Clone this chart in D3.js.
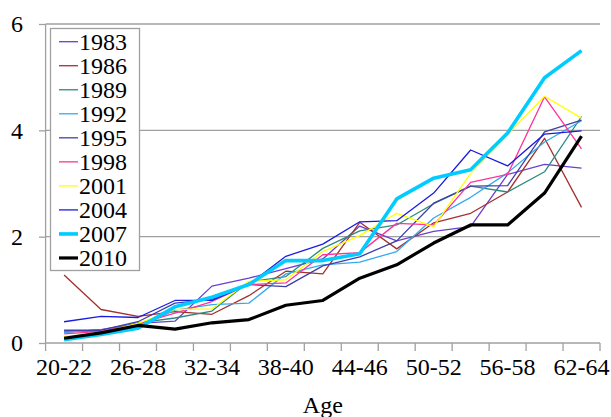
<!DOCTYPE html>
<html>
<head>
<meta charset="utf-8">
<script src="https://cdn.jsdelivr.net/npm/d3@7"></script>
<style>
  body { margin: 0; background: #fff; }
  text { font-family: "Liberation Serif", "Times New Roman", serif; }
</style>
</head>
<body>
<div id="chart"></div>
<script>
var ageGroups = ["20-22", "23-25", "26-28", "29-31", "32-34", "35-37", "38-40", "41-43",
                 "44-46", "47-49", "50-52", "53-55", "56-58", "59-61", "62-64"];
var yTicks = [0, 2, 4, 6];

var s1983 = [0.20, 0.25, 0.37, 0.41, 1.07, 1.22, 1.40, 1.58, 2.20, 1.92, 2.10, 2.19, 3.17, 3.36, 3.29];
var s1986 = [1.28, 0.63, 0.50, 0.59, 0.54, 0.89, 1.35, 1.30, 2.27, 1.77, 2.26, 2.44, 2.84, 3.85, 2.55];
var s1989 = [0.22, 0.22, 0.38, 0.47, 0.60, 1.15, 1.25, 1.78, 2.11, 2.22, 2.62, 2.95, 2.84, 3.22, 4.26];
var s1992 = [0.20, 0.25, 0.30, 0.62, 0.72, 0.75, 1.30, 1.47, 1.52, 1.72, 2.35, 2.74, 3.20, 3.78, 4.18];
var s1995 = [0.24, 0.24, 0.40, 0.75, 0.82, 1.10, 1.06, 1.45, 1.62, 1.92, 2.63, 2.95, 2.96, 3.97, 4.19];
var s1998 = [0.17, 0.22, 0.36, 0.56, 0.78, 1.10, 1.13, 1.66, 1.70, 2.25, 2.22, 3.02, 3.17, 4.63, 3.65];
var s2001 = [0.12, 0.19, 0.37, 0.63, 0.64, 1.16, 1.19, 1.72, 2.02, 2.44, 2.19, 3.19, 3.92, 4.64, 4.23];
var s2004 = [0.40, 0.50, 0.48, 0.80, 0.80, 1.10, 1.63, 1.86, 2.28, 2.30, 2.82, 3.63, 3.33, 3.93, 3.99];
var s2007 = [0.06, 0.16, 0.28, 0.68, 0.86, 1.10, 1.55, 1.55, 1.68, 2.71, 3.10, 3.26, 3.95, 4.99, 5.50];
var s2010 = [0.09, 0.19, 0.33, 0.26, 0.38, 0.44, 0.71, 0.80, 1.22, 1.47, 1.88, 2.22, 2.22, 2.82, 3.89];

var years = ["1983", "1986", "1989", "1992", "1995", "1998", "2001", "2004", "2007", "2010"];
var allValues = [s1983, s1986, s1989, s1992, s1995, s1998, s2001, s2004, s2007, s2010];
var colors = ["#6a3fd0", "#a3302c", "#2a8a80", "#33aaee", "#3f3fa8", "#ff3399", "#ffff00", "#1a1ae0", "#00ccff", "#000000"];
var widths = [1.3, 1.3, 1.3, 1.3, 1.3, 1.3, 1.3, 1.3, 3.6, 3.2];

var series = years.map(function(yr, i) {
    return { year: yr, values: allValues[i], color: colors[i], width: widths[i] };
});

var W = 611, H = 417;
var plotLeft = 45.6, plotRight = 600, plotTop = 24, plotBottom = 343;
var serif = "'Liberation Serif', 'Times New Roman', serif";

var svg = d3.select("#chart").append("svg")
    .attr("width", W)
    .attr("height", H);

var x = d3.scaleBand()
    .domain(ageGroups)
    .range([plotLeft, plotRight])
    .padding(0);

var y = d3.scaleLinear()
    .domain([0, 6])
    .range([plotBottom, plotTop]);

// gridlines
svg.selectAll(".grid")
    .data(yTicks.filter(function(d) { return d > 0 }))
    .enter().append("line")
    .attr("x1", plotLeft)
    .attr("x2", plotRight)
    .attr("y1", function(d) { return y(d) })
    .attr("y2", function(d) { return y(d) })
    .attr("stroke", "#a0a0a0")
    .attr("stroke-width", 1.3);

// y axis
var yAxis = svg.append("g")
    .attr("transform", "translate(" + plotLeft + ",0)")
    .call(d3.axisLeft(y).tickValues(yTicks).tickSize(6.6).tickPadding(16).tickFormat(d3.format("d")));
yAxis.attr("font-family", serif).attr("font-size", 24);
yAxis.select(".domain").remove();
yAxis.selectAll("line").attr("stroke", "#a0a0a0").attr("stroke-width", 1.3);
yAxis.selectAll("text").attr("fill", "#000");

svg.append("line")
    .attr("x1", plotLeft).attr("x2", plotLeft)
    .attr("y1", plotTop).attr("y2", plotBottom)
    .attr("stroke", "#a0a0a0").attr("stroke-width", 1.3);

// x axis: ticks at band edges
var edges = ageGroups.map(function(d) { return x(d) }).concat([x.range()[1]]);
svg.append("line")
    .attr("x1", plotLeft).attr("x2", plotRight)
    .attr("y1", plotBottom).attr("y2", plotBottom)
    .attr("stroke", "#a0a0a0").attr("stroke-width", 1.3);
svg.selectAll(".xtick")
    .data(edges)
    .enter().append("line")
    .attr("x1", function(d) { return d }).attr("x2", function(d) { return d })
    .attr("y1", plotBottom).attr("y2", plotBottom + 8)
    .attr("stroke", "#a0a0a0").attr("stroke-width", 1.3);

var xAxis = svg.append("g")
    .attr("transform", "translate(0," + plotBottom + ")")
    .call(d3.axisBottom(x)
        .tickValues(ageGroups.filter(function(d, i) { return i % 2 === 0 }))
        .tickSize(0).tickPadding(15));
xAxis.attr("font-family", serif).attr("font-size", 24);
xAxis.select(".domain").remove();
xAxis.selectAll("text").attr("fill", "#000");

svg.append("text")
    .attr("x", (plotLeft + plotRight) / 2)
    .attr("y", 413)
    .attr("text-anchor", "middle")
    .attr("font-family", serif)
    .attr("font-size", 24)
    .text("Age");

// lines
var line = d3.line()
    .x(function(d, i) { return x(ageGroups[i]) + x.bandwidth() / 2 })
    .y(function(d) { return y(d) });

svg.selectAll(".series")
    .data(series)
    .enter().append("path")
    .attr("d", function(d) { return line(d.values) })
    .attr("fill", "none")
    .attr("stroke", function(d) { return d.color })
    .attr("stroke-width", function(d) { return d.width })
    .attr("stroke-linejoin", "round");

// legend
svg.append("rect")
    .attr("x", 50.5).attr("y", 28.5)
    .attr("width", 89).attr("height", 242)
    .attr("fill", "#fff")
    .attr("stroke", "#a0a0a0")
    .attr("stroke-width", 1.3);

var legend = svg.selectAll(".legend")
    .data(series)
    .enter().append("g")
    .attr("transform", function(d, i) { return "translate(59," + (41.7 + i * 24.03) + ")" });

legend.append("line")
    .attr("x1", 0).attr("x2", 19)
    .attr("y1", 0).attr("y2", 0)
    .attr("stroke", function(d) { return d.color })
    .attr("stroke-width", function(d) { return d.width });

legend.append("text")
    .attr("x", 20)
    .attr("dy", "0.35em")
    .attr("font-family", serif)
    .attr("font-size", 24)
    .text(function(d) { return d.year });
</script>
</body>
</html>
